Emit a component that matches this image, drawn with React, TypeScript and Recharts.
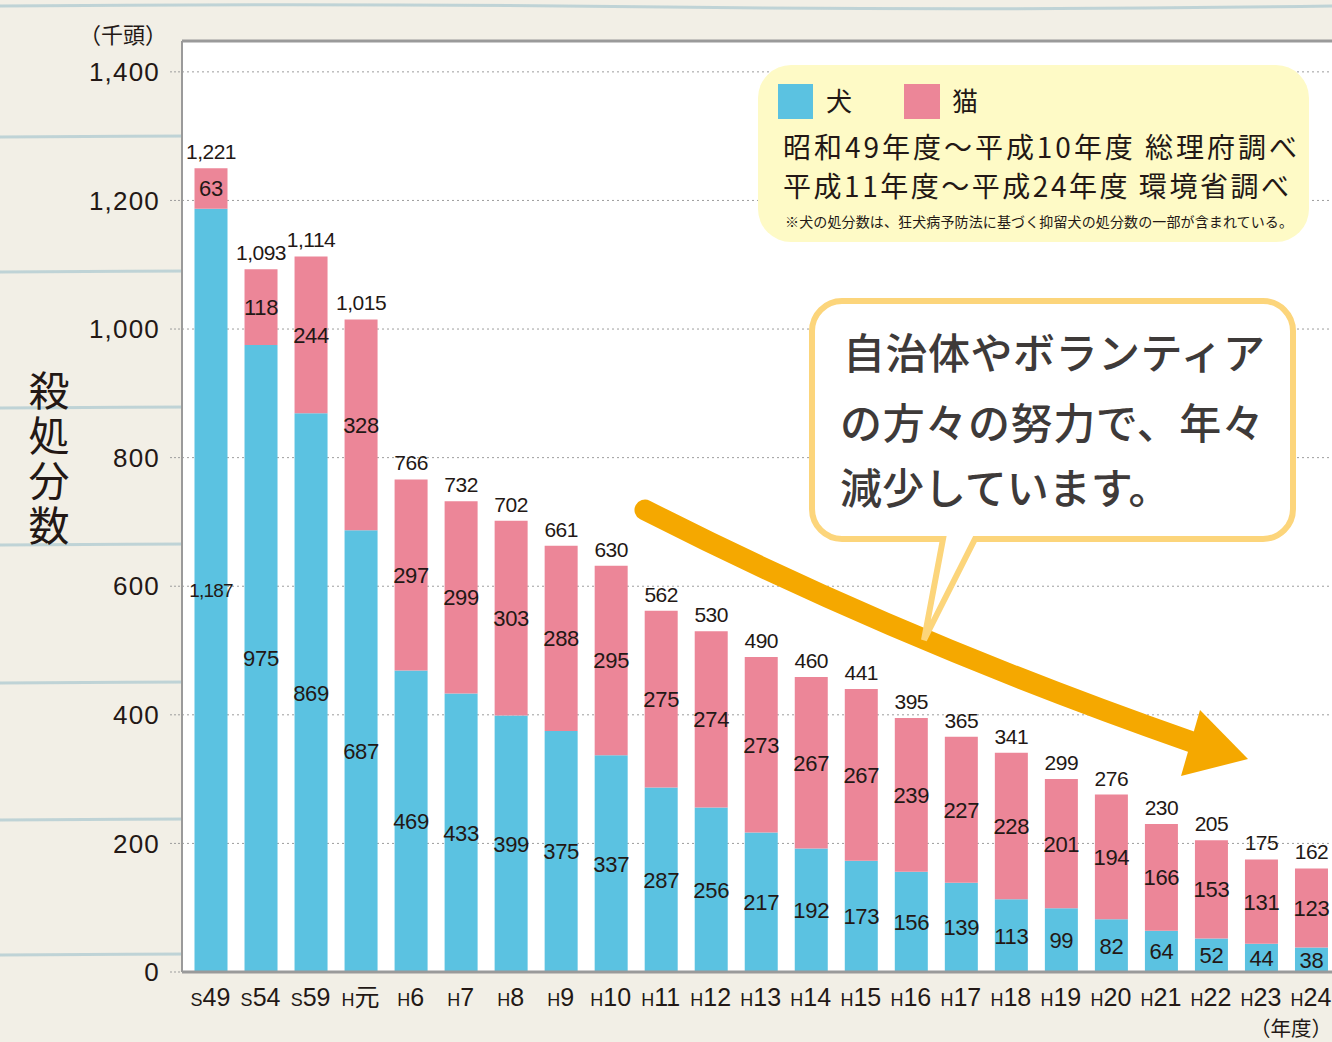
import React from 'react';
import { BarChart, Bar, XAxis, YAxis, CartesianGrid, ReferenceLine, LabelList } from 'recharts';

const years = ['S49', 'S54', 'S59', 'H元', 'H6', 'H7', 'H8', 'H9', 'H10', 'H11', 'H12', 'H13', 'H14', 'H15', 'H16', 'H17', 'H18', 'H19', 'H20', 'H21', 'H22', 'H23', 'H24'];
const dogs = [1187, 975, 869, 687, 469, 433, 399, 375, 337, 287, 256, 217, 192, 173, 156, 139, 113, 99, 82, 64, 52, 44, 38];
const cats = [63, 118, 244, 328, 297, 299, 303, 288, 295, 275, 274, 273, 267, 267, 239, 227, 228, 201, 194, 166, 153, 131, 123];
const totals = [1221, 1093, 1114, 1015, 766, 732, 702, 661, 630, 562, 530, 490, 460, 441, 395, 365, 341, 299, 276, 230, 205, 175, 162];
const yTicks = [0, 200, 400, 600, 800, 1000, 1200, 1400];

const data = years.map((year, i) => ({ year, dog: dogs[i], cat: cats[i], total: totals[i] }));

const DOG = '#5bc2e1';
const CAT = '#ec8698';
const INK = '#231815';
const FRAME = '#9a9a9a';
const NUM_FONT = "'Liberation Sans', Arial, sans-serif";
const JP_FONT = "'Noto Sans CJK JP', sans-serif";

const fmt = (v: number) => Number(v).toLocaleString('en-US');

const XTick = (props: any) => {
  const { x, y, payload } = props;
  const v: string = String(payload.value);
  return (
    <text x={x} y={y + 34} textAnchor="middle" fill={INK} fontFamily={NUM_FONT}>
      <tspan fontSize={18}>{v[0]}</tspan>
      <tspan fontSize={25} fontFamily={v.slice(1) === '元' ? JP_FONT : NUM_FONT}>{v.slice(1)}</tspan>
    </text>
  );
};

const InsideLabel = (props: any) => {
  const { x, y, width, height, value } = props;
  const s = fmt(value);
  return (
    <text
      x={x + width / 2}
      y={y + height / 2}
      dy="0.36em"
      textAnchor="middle"
      fill={INK}
      fontFamily={NUM_FONT}
      fontSize={s.length > 3 ? 19 : 22}
      letterSpacing={s.length > 3 ? -0.8 : -0.3}
    >
      {s}
    </text>
  );
};

const TopLabel = (props: any) => {
  const { x, y, width, value } = props;
  return (
    <text
      x={x + width / 2}
      y={y - 9}
      textAnchor="middle"
      fill={INK}
      fontFamily={NUM_FONT}
      fontSize={21}
      letterSpacing={-0.5}
    >
      {fmt(value)}
    </text>
  );
};

const paperLines = [6, 137, 272, 408, 545, 683, 820, 955];

export default function App() {
  return (
    <div style={{ position: 'fixed', left: 0, top: 0, width: 1332, height: 1042, overflow: 'hidden', background: '#f2efe6' }}>
      <svg width={1332} height={1042} style={{ position: 'absolute', left: 0, top: 0 }}>
        {paperLines.map((py, i) => (
          <path
            key={i}
            d={`M0 ${py} Q 333 ${py - 3} 666 ${py + 1} T 1332 ${py}`}
            stroke="#a9c7cf"
            strokeWidth={3}
            fill="none"
            opacity={0.7}
          />
        ))}
      </svg>
      <div style={{ position: 'absolute', left: 0, top: 0 }}>
        <BarChart
          width={1336}
          height={1042}
          data={data}
          margin={{ top: 41, right: 0, bottom: 0, left: 0 }}
          barSize={33}
        >
          <CartesianGrid vertical={false} stroke="#9d9d9d" strokeDasharray="2 3" fill="#ffffff" />
          <XAxis
            dataKey="year"
            height={70}
            padding={{ left: 3.5, right: 0 }}
            tickLine={false}
            tickSize={0}
            tickMargin={0}
            axisLine={{ stroke: FRAME, strokeWidth: 3 }}
            tick={<XTick />}
            interval={0}
          />
          <YAxis
            width={182}
            domain={[0, 1448]}
            ticks={yTicks}
            allowDataOverflow
            tickFormatter={fmt}
            tickSize={12}
            tickMargin={10}
            tickLine={{ stroke: '#9d9d9d', strokeDasharray: '2 2' }}
            axisLine={{ stroke: FRAME, strokeWidth: 2 }}
            tick={{ fill: INK, fontSize: 26, fontFamily: NUM_FONT, letterSpacing: 1.2 }}
          />
          <ReferenceLine y={1448} stroke={FRAME} strokeWidth={3} />
          <Bar dataKey="dog" stackId="a" fill={DOG} isAnimationActive={false}>
            <LabelList dataKey="dog" content={<InsideLabel />} />
          </Bar>
          <Bar dataKey="cat" stackId="a" fill={CAT} isAnimationActive={false}>
            <LabelList dataKey="cat" content={<InsideLabel />} />
            <LabelList dataKey="total" content={<TopLabel />} />
          </Bar>
        </BarChart>
      </div>
      <svg width={1332} height={1042} style={{ position: 'absolute', left: 0, top: 0, pointerEvents: 'none' }}>
        <text x={123} y={43} textAnchor="middle" fontSize={22} fill={INK} fontFamily={JP_FONT}>（千頭）</text>
        <text
          x={49}
          y={370}
          fontSize={41}
          fill={INK}
          fontFamily={JP_FONT}
          letterSpacing={4}
          style={{ writingMode: 'vertical-rl' } as any}
        >
          殺処分数
        </text>
        <text x={1291} y={1036} textAnchor="middle" fontSize={20.5} fill={INK} fontFamily={JP_FONT}>（年度）</text>

        {/* legend box */}
        <rect x={758} y={65} width={551} height={177} rx={33} fill="#fefac6" />
        <rect x={778} y={84} width={35} height={35} fill={DOG} />
        <text x={826} y={111} fontSize={26} fill={INK} fontFamily={JP_FONT}>犬</text>
        <rect x={904} y={84} width={36} height={35} fill={CAT} />
        <text x={952} y={111} fontSize={26} fill={INK} fontFamily={JP_FONT}>猫</text>
        <text x={783} y={158} fontSize={28} fill={INK} fontFamily={JP_FONT} textLength={514} lengthAdjust="spacing">
          昭和49年度～平成10年度 総理府調べ
        </text>
        <text x={783} y={197} fontSize={28} fill={INK} fontFamily={JP_FONT} textLength={506} lengthAdjust="spacing">
          平成11年度～平成24年度 環境省調べ
        </text>
        <text x={785} y={227} fontSize={14} fill={INK} fontFamily={JP_FONT} textLength={508} lengthAdjust="spacing">
          ※犬の処分数は、狂犬病予防法に基づく抑留犬の処分数の一部が含まれている。
        </text>

        {/* arrow */}
        <path d="M645 510 Q 900 640 1192 742" stroke="#f5a800" strokeWidth={21} strokeLinecap="round" fill="none" />
        <polygon points="1200,710 1248,759 1181,776" fill="#f5a800" />

        {/* callout */}
        <path
          d="M842 301 H1263 A30 30 0 0 1 1293 331 V509 A30 30 0 0 1 1263 539 H975 L924 640 L943 539 H842 A30 30 0 0 1 812 509 V331 A30 30 0 0 1 842 301 Z"
          fill="#ffffff"
          stroke="#fcd57b"
          strokeWidth={6}
          strokeLinejoin="miter"
        />
        <text x={843} y={369} fontSize={42} fontWeight={500} fill="#3e3a39" fontFamily={JP_FONT} textLength={422} lengthAdjust="spacing">
          自治体やボランティア
        </text>
        <text x={840} y={439} fontSize={42} fontWeight={500} fill="#3e3a39" fontFamily={JP_FONT} textLength={424} lengthAdjust="spacing">
          の方々の努力で、年々
        </text>
        <text x={840} y={504} fontSize={42} fontWeight={500} fill="#3e3a39" fontFamily={JP_FONT}>
          減少しています。
        </text>
      </svg>
    </div>
  );
}
